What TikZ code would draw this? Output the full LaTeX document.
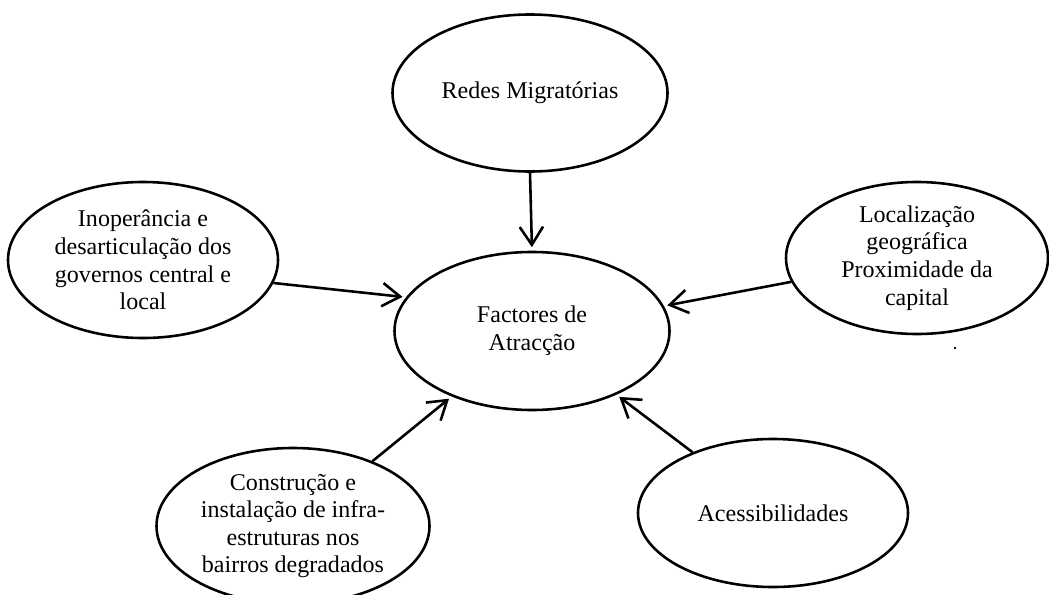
\documentclass[tikz,border=0pt]{standalone}
\usepackage{fontspec}
\setmainfont{Liberation Serif}
\usetikzlibrary{arrows.meta,shapes.geometric}

\begin{document}
\begin{tikzpicture}[x=0.03cm,y=-0.03cm,
        elipse/.style={draw,ellipse,line width=2.2pt,align=center,inner sep=0pt,
            font=\fontsize{20.5}{23.6}\selectfont},
        seta/.style={line width=2.2pt,-{Straight Barb[length=5.4mm,width=7mm]},shorten >=3pt}]
        \useasboundingbox (0,0) rectangle (1049,594);

        % Draw ellipses
        \node[elipse,minimum width=8.25cm,minimum height=4.71cm] (redes) at (530,93) {Redes Migratórias};
        \node[elipse,minimum width=8.25cm,minimum height=4.74cm] (fact) at (532,331) {Factores de\\Atracção};
        \node[elipse,minimum width=8.1cm,minimum height=4.68cm] (gov) at (143,260) {Inoperância e\\desarticulação dos\\governos central e\\local};
        \node[elipse,minimum width=7.86cm,minimum height=4.56cm] (loc) at (917,258) {Localização\\geográfica\\Proximidade da\\capital};
        \node[elipse,minimum width=8.19cm,minimum height=4.68cm] (infra) at (293,526) {Construção e\\instalação de infra-\\estruturas nos\\bairros degradados};
        \node[elipse,minimum width=8.1cm,minimum height=4.44cm] (acess) at (773,513) {Acessibilidades};

        % Draw arrows
        \foreach \a/\b in {redes.south/fact.north, gov.-10/fact.165,
            loc/fact, infra/fact, acess/fact} {
            \draw[seta] (\a) -- (\b);
        }

        % stray dot
        \fill (955,348) circle (1.2pt);
\end{tikzpicture}
\end{document}
